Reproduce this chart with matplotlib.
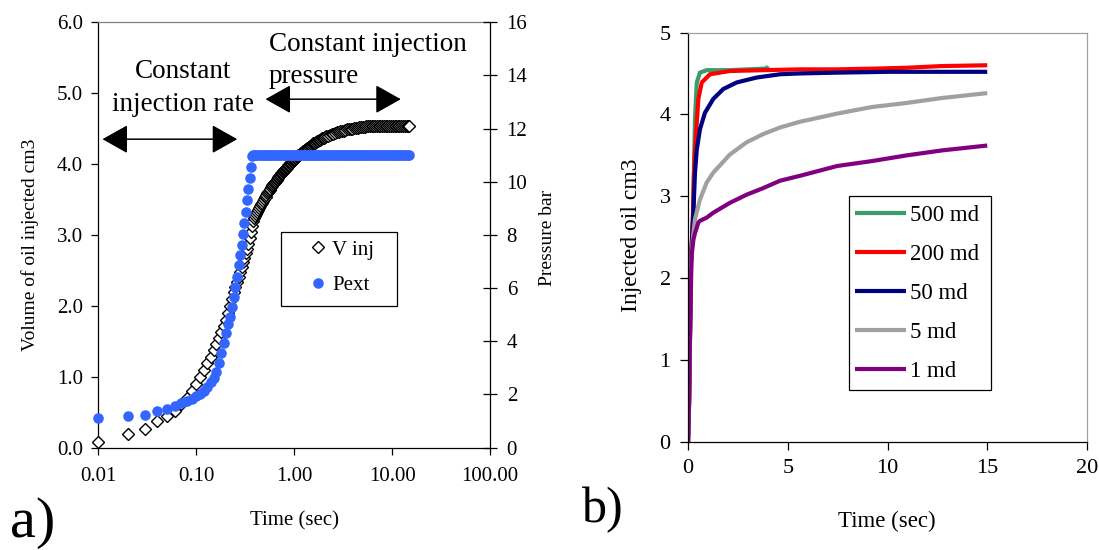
import matplotlib
matplotlib.use("Agg")
import matplotlib.pyplot as plt
from matplotlib.lines import Line2D
from matplotlib.patches import Rectangle

plt.rcParams['font.family'] = ['Liberation Serif', 'DejaVu Serif']

# ---------------- data: panel a ----------------
# V inj (volume of oil injected, cm3)
t_vinj = [0.01, 0.02, 0.03, 0.04, 0.05, 0.06, 0.07, 0.08, 0.09, 0.10,
          0.11, 0.12, 0.13, 0.14, 0.15, 0.16, 0.17, 0.18, 0.19, 0.20,
          0.21, 0.22, 0.23, 0.24, 0.25, 0.26, 0.27, 0.28, 0.29, 0.30,
          0.31, 0.32, 0.33, 0.34, 0.35, 0.36, 0.37,
          0.38, 0.39, 0.40, 0.41, 0.42, 0.43, 0.44, 0.45, 0.46, 0.47,
          0.48, 0.49, 0.50, 0.51, 0.52, 0.53, 0.54, 0.55, 0.56, 0.57,
          0.58, 0.59, 0.60, 0.61, 0.62, 0.63, 0.64, 0.65, 0.66, 0.67,
          0.68, 0.69, 0.70, 0.71, 0.72, 0.73, 0.74, 0.75, 0.76, 0.77,
          0.78, 0.79, 0.80, 0.81, 0.82, 0.83, 0.84, 0.85, 0.86, 0.87,
          0.88, 0.89, 0.90, 0.91, 0.92, 0.93, 0.94, 0.95, 0.96, 0.97,
          0.98, 0.99, 1.00,
          1.02, 1.04, 1.06, 1.08, 1.10, 1.12, 1.14, 1.16, 1.18, 1.20,
          1.22, 1.24, 1.26, 1.28, 1.30,
          1.33, 1.36, 1.39, 1.42, 1.45, 1.48, 1.51, 1.54, 1.57, 1.60,
          1.64, 1.68, 1.72, 1.76, 1.80, 1.84, 1.88, 1.92, 1.96, 2.00,
          2.04, 2.13, 2.22, 2.31, 2.41, 2.51, 2.61, 2.72, 2.84,
          2.96, 3.08, 3.21, 3.34, 3.48, 3.63, 3.78, 3.94, 4.10, 4.28,
          4.46, 4.64, 4.84, 5.04, 5.25, 5.47, 5.70, 5.94, 6.19, 6.45,
          6.72, 7.00, 7.29, 7.60, 7.92, 8.25, 8.59, 8.95, 9.33, 9.72,
          10.1, 10.6, 11.0, 11.5, 11.9, 12.4, 13.0, 13.5, 14.1, 14.7,
          15.0]

v_inj = [0.08, 0.19, 0.26, 0.37, 0.44, 0.52, 0.62, 0.70, 0.80, 0.90,
         1.00, 1.10, 1.19, 1.28, 1.37, 1.46, 1.55, 1.63, 1.71, 1.80,
         1.90, 2.00, 2.10, 2.19, 2.27, 2.34, 2.41, 2.48, 2.55, 2.62,
         2.68, 2.74, 2.80, 2.87, 2.95, 3.04, 3.12,
         3.20, 3.24, 3.27, 3.30, 3.33, 3.35, 3.38, 3.41, 3.43, 3.45,
         3.48, 3.50, 3.53, 3.54, 3.56, 3.59, 3.60, 3.62, 3.64, 3.65,
         3.67, 3.69, 3.70, 3.72, 3.73, 3.74, 3.75, 3.76, 3.78, 3.79,
         3.80, 3.82, 3.83, 3.84, 3.85, 3.86, 3.87, 3.88, 3.89, 3.90,
         3.91, 3.91, 3.92, 3.93, 3.94, 3.95, 3.95, 3.96, 3.97, 3.98,
         3.99, 3.99, 4.00, 4.01, 4.02, 4.02, 4.03, 4.04, 4.04, 4.05,
         4.06, 4.06, 4.07,
         4.08, 4.09, 4.10, 4.11, 4.12, 4.13, 4.14, 4.15, 4.15, 4.16,
         4.17, 4.18, 4.18, 4.19, 4.20,
         4.21, 4.22, 4.23, 4.24, 4.25, 4.26, 4.27, 4.28, 4.29, 4.30,
         4.30, 4.31, 4.32, 4.33, 4.34, 4.34, 4.35, 4.36, 4.37, 4.37,
         4.38, 4.39, 4.40, 4.41, 4.42, 4.43, 4.44, 4.45, 4.45,
         4.46, 4.47, 4.47, 4.48, 4.49, 4.49, 4.50, 4.50, 4.51, 4.51,
         4.51, 4.52, 4.52, 4.52, 4.52, 4.53, 4.53, 4.53, 4.53, 4.53,
         4.54, 4.54, 4.54, 4.54, 4.54, 4.54, 4.54, 4.54, 4.54, 4.54,
         4.54, 4.54, 4.54, 4.54, 4.54, 4.54, 4.54, 4.54, 4.54, 4.54,
         4.54]

# Pext (pressure, bar)
t_pext = [0.01, 0.02, 0.03, 0.04, 0.05, 0.06, 0.07, 0.08, 0.09, 0.10,
          0.11, 0.12, 0.13, 0.14, 0.15, 0.16, 0.17, 0.18, 0.19, 0.20,
          0.21, 0.22, 0.23, 0.24, 0.25, 0.26, 0.27, 0.28, 0.29, 0.30,
          0.31, 0.32, 0.33, 0.34, 0.35, 0.36, 0.37,
          0.38, 0.40, 0.41, 0.43, 0.45, 0.47, 0.49, 0.51, 0.53, 0.55,
          0.57, 0.60, 0.62, 0.65, 0.68, 0.70, 0.73, 0.76, 0.80, 0.83,
          0.86, 0.90, 0.94, 0.98, 1.02, 1.06, 1.10, 1.15, 1.20, 1.25,
          1.30, 1.36, 1.41, 1.47, 1.53, 1.60, 1.66, 1.73, 1.81, 1.88,
          1.96, 2.04, 2.13, 2.22, 2.31, 2.41, 2.51, 2.61, 2.72, 2.84,
          2.96, 3.08, 3.21, 3.34, 3.48, 3.63, 3.78, 3.94, 4.10, 4.28,
          4.46, 4.64, 4.84, 5.04, 5.25, 5.47, 5.70, 5.94, 6.19, 6.45,
          6.72, 7.00, 7.29, 7.60, 7.92, 8.25, 8.59, 8.95, 9.33, 9.72,
          10.1, 10.6, 11.0, 11.5, 11.9, 12.4, 13.0, 13.5, 14.1, 14.7,
          15.0]

p_ext = [1.10, 1.17, 1.24, 1.37, 1.47, 1.58, 1.68, 1.76, 1.83, 1.93,
         2.02, 2.14, 2.28, 2.45, 2.62, 2.84, 3.17, 3.55, 3.92, 4.32,
         4.66, 4.91, 5.28, 5.66, 6.04, 6.43, 6.85, 7.23, 7.63, 8.03,
         8.44, 8.88, 9.30, 9.71, 10.14, 10.55, 10.97,
         11.0, 11.0, 11.0, 11.0, 11.0, 11.0, 11.0, 11.0, 11.0, 11.0,
         11.0, 11.0, 11.0, 11.0, 11.0, 11.0, 11.0, 11.0, 11.0, 11.0,
         11.0, 11.0, 11.0, 11.0, 11.0, 11.0, 11.0, 11.0, 11.0, 11.0,
         11.0, 11.0, 11.0, 11.0, 11.0, 11.0, 11.0, 11.0, 11.0, 11.0,
         11.0, 11.0, 11.0, 11.0, 11.0, 11.0, 11.0, 11.0, 11.0, 11.0,
         11.0, 11.0, 11.0, 11.0, 11.0, 11.0, 11.0, 11.0, 11.0, 11.0,
         11.0, 11.0, 11.0, 11.0, 11.0, 11.0, 11.0, 11.0, 11.0, 11.0,
         11.0, 11.0, 11.0, 11.0, 11.0, 11.0, 11.0, 11.0, 11.0, 11.0,
         11.0, 11.0, 11.0, 11.0, 11.0, 11.0, 11.0, 11.0, 11.0, 11.0,
         11.0]

a_xticks = [0.01, 0.1, 1, 10, 100]
a_xticklabels = ["0.01", "0.10", "1.00", "10.00", "100.00"]
a_yticks = [0, 1, 2, 3, 4, 5, 6]
a_yticklabels = ["0.0", "1.0", "2.0", "3.0", "4.0", "5.0", "6.0"]
a_y2ticks = [0, 2, 4, 6, 8, 10, 12, 14, 16]

# ---------------- data: panel b ----------------
t_500 = [0, 0.05, 0.10, 0.15, 0.25, 0.35, 0.44, 0.60, 0.94, 2.1, 3.0, 3.94, 4.0]
v_500 = [0, 0.45, 1.30, 2.20, 2.70, 3.94, 4.39, 4.51, 4.54, 4.54, 4.55, 4.56, 4.59]

t_200 = [0, 0.05, 0.10, 0.15, 0.25, 0.30, 0.35, 0.44, 0.52, 0.69, 1.10, 2.1,
         3.77, 5.61, 7.5, 9.5, 11.0, 12.7, 15.0]
v_200 = [0, 0.45, 1.30, 2.20, 2.80, 3.30, 3.57, 3.90, 4.19, 4.39, 4.49, 4.53,
         4.54, 4.55, 4.55, 4.56, 4.57, 4.59, 4.60]

t_50 = [0, 0.05, 0.10, 0.15, 0.22, 0.27, 0.35, 0.44, 0.60, 0.85, 1.27, 1.77,
        2.44, 3.44, 4.61, 5.61, 7.5, 10.0, 15.0]
v_50 = [0, 0.45, 1.30, 2.20, 2.55, 2.80, 3.29, 3.57, 3.82, 4.02, 4.19, 4.31,
        4.39, 4.45, 4.49, 4.50, 4.51, 4.52, 4.52]

t_5 = [0, 0.05, 0.10, 0.15, 0.25, 0.35, 0.60, 0.94, 1.27, 2.1, 2.94, 3.77,
       4.61, 5.61, 7.48, 9.22, 10.97, 12.72, 15.0]
v_5 = [0, 0.45, 1.30, 2.20, 2.50, 2.72, 2.96, 3.17, 3.29, 3.51, 3.66, 3.76,
       3.84, 3.91, 4.01, 4.09, 4.14, 4.20, 4.26]

t_1 = [0, 0.05, 0.10, 0.17, 0.19, 0.27, 0.35, 0.52, 0.60, 0.94, 1.27, 2.1,
       2.94, 3.77, 4.61, 5.61, 7.48, 9.22, 10.97, 12.72, 15.0]
v_1 = [0, 0.45, 1.30, 2.15, 2.30, 2.47, 2.55, 2.68, 2.70, 2.74, 2.80, 2.92,
       3.02, 3.10, 3.19, 3.25, 3.37, 3.43, 3.50, 3.56, 3.62]

b_labels = ["500 md", "200 md", "50 md", "5 md", "1 md"]
b_colors = ["#3A9C6A", "#FF0000", "#000080", "#A0A0A0", "#800080"]
b_xticks = [0, 5, 10, 15, 20]
b_yticks = [0, 1, 2, 3, 4, 5]

W, H = 1099, 550
fig = plt.figure(figsize=(W / 100, H / 100), dpi=100)

def fx(px):
    return px / W

def fy(py):
    return 1 - py / H

BLUE = '#3366FF'
DIA_MS, DOT_MS = 6.2, 7.6

# ---------------- panel a ----------------
axL, axR, axT, axB = 98.4, 490.0, 22.2, 447.6
ax = fig.add_axes([fx(axL), fy(axB), fx(axR - axL), (axB - axT) / H])
ax.set_xscale('log')
ax.set_xlim(0.01, 100)
ax.set_ylim(0, 6)
ax.plot(t_vinj, v_inj, linestyle='none', marker='D', ms=DIA_MS,
        mfc='white', mec='black', mew=1.0, clip_on=False, zorder=3)
ax.set_xticks(a_xticks)
ax.set_xticklabels(a_xticklabels)
ax.xaxis.set_minor_locator(matplotlib.ticker.NullLocator())
ax.set_yticks(a_yticks)
ax.set_yticklabels(a_yticklabels)
ax.tick_params(axis='both', direction='out', length=5, width=0.9,
               labelsize=15, colors='black')
ax.tick_params(axis='x', pad=9)
ax.tick_params(axis='y', pad=6)
ax.spines['top'].set_color('#808080')
ax.spines['top'].set_linewidth(0.9)
ax.spines['right'].set_visible(False)
ax.spines['left'].set_linewidth(0.9)
ax.spines['bottom'].set_linewidth(0.9)

ax2 = ax.twinx()
ax2.set_ylim(0, 16)
ax2.plot(t_pext, p_ext, linestyle='none', marker='o', ms=DOT_MS,
         mfc=BLUE, mec=BLUE, mew=0, clip_on=False)
ax2.set_yticks(a_y2ticks)
ax2.tick_params(axis='y', direction='inout', length=10, width=0.9,
                labelsize=15, pad=7)
for s in ['top', 'left', 'bottom']:
    ax2.spines[s].set_visible(False)
ax2.spines['right'].set_linewidth(0.9)

# legend of panel a: frame + entries
fig.patches.append(Rectangle((fx(281.3), fy(306)), fx(397.3 - 281.3),
                             (306 - 232) / H, transform=fig.transFigure,
                             facecolor='white', edgecolor='black',
                             linewidth=0.9, zorder=5))
hv = Line2D([], [], linestyle='none', marker='D', ms=DIA_MS, mfc='white',
            mec='black', mew=1.0)
hp = Line2D([], [], linestyle='none', marker='o', ms=DOT_MS, mfc=BLUE,
            mec=BLUE, mew=0)
legA = fig.legend([hv, hp], ["V inj", "Pext"], loc='upper left',
                  bbox_to_anchor=(fx(307.6), fy(240)),
                  bbox_transform=fig.transFigure, frameon=False,
                  borderpad=0, borderaxespad=0, handlelength=1.0,
                  handletextpad=0.17, labelspacing=0.77, fontsize=15)
legA.set_zorder(6)

# annotations
arrow_style = '<|-|>,head_length=0.8,head_width=0.45'
ax.annotate('', xy=(0.011, 4.35), xytext=(0.262, 4.35),
            arrowprops=dict(arrowstyle=arrow_style, mutation_scale=20,
                            color='black', lw=1.1, shrinkA=0, shrinkB=0))
ax.annotate('', xy=(0.509, 4.914), xytext=(12.27, 4.914),
            arrowprops=dict(arrowstyle=arrow_style, mutation_scale=20,
                            color='black', lw=1.1, shrinkA=0, shrinkB=0))
fig.text(fx(183.2), fy(78), "Constant", ha='center', va='baseline', fontsize=19.5)
fig.text(fx(183.2), fy(110.8), "injection rate", ha='center', va='baseline', fontsize=19.5)
fig.text(fx(269), fy(51), "Constant injection", ha='left', va='baseline', fontsize=19.5)
fig.text(fx(269), fy(82.6), "pressure", ha='left', va='baseline', fontsize=19.5)

fig.text(fx(30), fy(245), "Volume of oil injected cm3", rotation=90,
         ha='center', va='center', fontsize=14)
fig.text(fx(548), fy(237.5), "Pressure bar", rotation=90,
         ha='center', va='center', fontsize=14)
fig.text(fx(294), fy(521), "Time (sec)", ha='center', va='center', fontsize=15)
fig.text(fx(10), fy(537), "a)", ha='left', va='baseline', fontsize=42)

# ---------------- panel b ----------------
bL, bR, bT, bB = 688.0, 1087.0, 32.5, 442.0
bx = fig.add_axes([fx(bL), fy(bB), fx(bR - bL), (bB - bT) / H])
series = [(t_500, v_500), (t_200, v_200), (t_50, v_50), (t_5, v_5), (t_1, v_1)]
handles = []
for (tt, vv), lab, col in zip(series, b_labels, b_colors):
    ln, = bx.plot(tt, vv, color=col, lw=3.0, label=lab, solid_joinstyle='miter',
                  solid_capstyle='butt')
    handles.append(ln)
bx.set_xlim(0, 20)
bx.set_ylim(0, 5)
bx.set_xticks(b_xticks)
bx.set_yticks(b_yticks)
bx.tick_params(axis='both', direction='out', length=5.5, width=0.9,
               labelsize=16, colors='black', pad=7)
for s in ['top', 'right']:
    bx.spines[s].set_color('#A0A0A0')
    bx.spines[s].set_linewidth(0.9)
for s in ['left', 'bottom']:
    bx.spines[s].set_linewidth(0.9)

fig.patches.append(Rectangle((fx(849), fy(389.7)), fx(991 - 849),
                             (389.7 - 195.7) / H, transform=fig.transFigure,
                             facecolor='white', edgecolor='black',
                             linewidth=0.9, zorder=5))
legB = fig.legend(handles, b_labels, loc='upper left',
                  bbox_to_anchor=(fx(855.4), fy(204.5)),
                  bbox_transform=fig.transFigure, fontsize=16.5,
                  frameon=False, borderpad=0, borderaxespad=0,
                  handlelength=2.19, handletextpad=0.18, labelspacing=0.79)
legB.set_zorder(6)

fig.text(fx(631), fy(235), "Injected oil cm3", rotation=90,
         ha='center', va='center', fontsize=17)
fig.text(fx(887), fy(521), "Time (sec)", ha='center', va='center', fontsize=16.5)
fig.text(fx(582), fy(522.5), "b)", ha='left', va='baseline', fontsize=36)

fig.savefig("out.png", dpi=100)
